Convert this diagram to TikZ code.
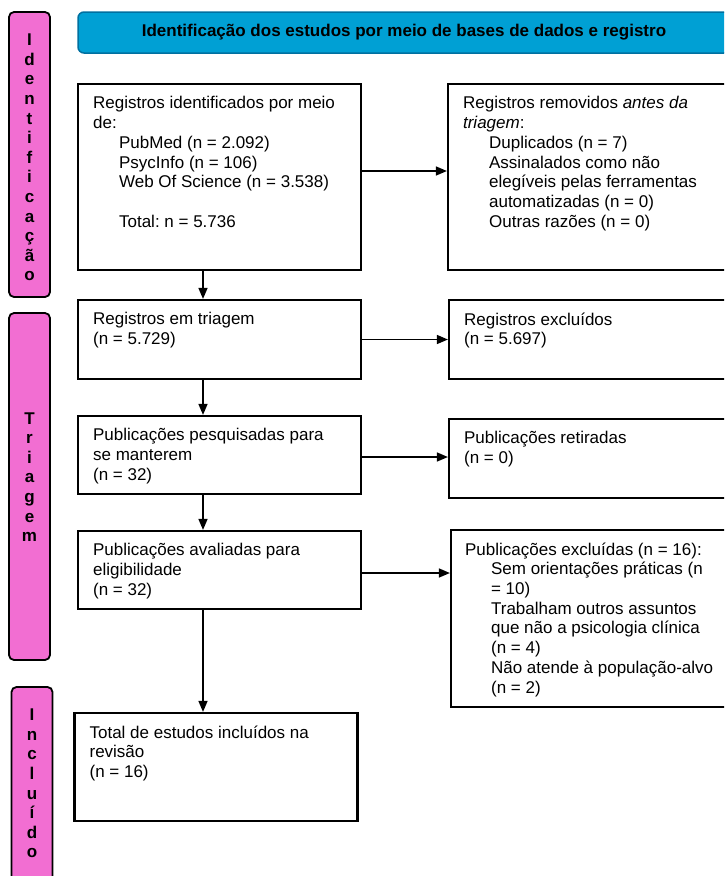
\documentclass[tikz,border=0pt]{standalone}
\usepackage{fontspec}
\setmainfont{Liberation Sans}
\usepackage{tikz}
\usetikzlibrary{arrows.meta,positioning}
\definecolor{barpink}{RGB}{242,110,210}
\definecolor{titleblue}{RGB}{0,160,212}
\definecolor{titleedge}{RGB}{0,112,160}
\newcommand{\ind}{\hspace*{26pt}}
\frenchspacing

\begin{document}
\begin{tikzpicture}[
    x=1pt, y=-1pt,
    box/.style={rectangle, draw, line width=2.2pt, minimum width=283pt, inner sep=0pt},
    txt/.style={inner sep=0pt, align=left, font=\fontsize{17}{19.7}\selectfont, execute at begin node=\strut},
    phase/.style={rectangle, rounded corners=5pt, draw, line width=1.8pt, fill=barpink, minimum width=41pt, inner sep=0pt},
    letters/.style={inner sep=0pt, align=center, font=\fontsize{17}{19.6}\selectfont\bfseries},
    arrow/.style={-{Triangle[length=11pt,width=9pt]}, line width=1.5pt}
]
    \useasboundingbox (0,0) rectangle (724,876);
    \clip (0,0) rectangle (724,876);

    % Titre
    \node[rectangle, rounded corners=6pt, draw=titleedge, line width=1.5pt, fill=titleblue,
        minimum width=652pt, minimum height=41pt, font=\fontsize{17}{19.7}\selectfont\bfseries]
        (title) at (404, 32.5) {Identificação dos estudos por meio de bases de dados e registro};

    % Phases
    \node[phase, minimum height=285pt] (phid) at (29.5, 154.5) {};
    \node[letters] (phidtxt) at (29.5, 157.5) {I\\d\\e\\n\\t\\i\\f\\i\\c\\a\\ç\\ã\\o};
    \node[phase, minimum height=347pt] (phtri) at (29.5, 486.5) {};
    \node[letters] (phtritxt) at (29.5, 477) {T\\r\\i\\a\\g\\e\\m};
    \node[phase, minimum height=213pt] (phinc) at (32, 793.5) {};
    \node[letters] (phinctxt) at (32, 783.5) {I\\n\\c\\l\\u\\í\\d\\o};

    % Colonne gauche
    \node[box, minimum height=186pt] (ident) at (219.5, 177) {};
    \node[box, minimum height=79pt] (triag) at (219.5, 339.5) {};
    \node[box, minimum height=78pt] (pesq) at (219.5, 455) {};
    \node[box, minimum height=78pt] (aval) at (219.5, 570) {};
    \node[box, minimum height=108pt] (incl) at (216, 767) {};

    % Colonne droite
    \node[box, minimum height=186pt] (remov) at (589.5, 177) {};
    \node[box, minimum height=79pt] (excl) at (590.5, 339.5) {};
    \node[box, minimum height=79pt] (retir) at (590.5, 458.5) {};
    \node[box, minimum height=177pt] (pexcl) at (592.5, 618.5) {};

    % Textes
    \node[txt, below right=13.5pt and 16pt of ident.north west] (identtxt)
        {Registros identificados por meio\\de:\\\ind PubMed (n = 2.092)\\\ind PsycInfo (n = 106)\\\ind Web Of Science (n = 3.538)\\[19.7pt]\ind Total: n = 5.736};
    \node[txt, below right=13.5pt and 16pt of triag.north west] (triagtxt)
        {Registros em triagem\\(n = 5.729)};
    \node[txt, below right=13.5pt and 16pt of pesq.north west] (pesqtxt)
        {Publicações pesquisadas para\\se manterem\\(n = 32)};
    \node[txt, below right=13.5pt and 16pt of aval.north west] (avaltxt)
        {Publicações avaliadas para\\eligibilidade\\(n = 32)};
    \node[txt, below right=13.5pt and 16pt of incl.north west] (incltxt)
        {Total de estudos incluídos na\\revisão\\(n = 16)};
    \node[txt, below right=13.5pt and 16pt of remov.north west] (removtxt)
        {Registros removidos \textit{antes da}\\\textit{triagem}:\\\ind Duplicados (n = 7)\\\ind Assinalados como não\\\ind elegíveis pelas ferramentas\\\ind automatizadas (n = 0)\\\ind Outras razões (n = 0)};
    \node[txt, below right=13.5pt and 16pt of excl.north west] (excltxt)
        {Registros excluídos\\(n = 5.697)};
    \node[txt, below right=13.5pt and 16pt of retir.north west] (retirtxt)
        {Publicações retiradas\\(n = 0)};
    \node[txt, below right=13.5pt and 15pt of pexcl.north west] (pexcltxt)
        {Publicações excluídas (n = 16):\\\ind Sem orientações práticas (n\\\ind = 10)\\\ind Trabalham outros assuntos\\\ind que não a psicologia clínica\\\ind (n = 4)\\\ind Não atende à população-alvo\\\ind (n = 2)};

    % Flèches verticales
    \coordinate (ax) at (203, 0);
    \draw[arrow] (ident.south -| ax) -- (triag.north -| ax);
    \draw[arrow] (triag.south -| ax) -- (pesq.north -| ax);
    \draw[arrow] (pesq.south -| ax) -- (aval.north -| ax);
    \draw[arrow] (aval.south -| ax) -- (incl.north -| ax);

    % Flèches horizontales
    \draw[arrow] ([yshift=6pt]ident.east) -- ([yshift=6pt]ident.east -| remov.west);
    \draw[arrow] (triag.east) -- (triag.east -| excl.west);
    \draw[arrow] ([yshift=-2pt]pesq.east) -- ([yshift=-2pt]pesq.east -| retir.west);
    \draw[arrow] ([yshift=-3pt]aval.east) -- ([yshift=-3pt]aval.east -| pexcl.west);
\end{tikzpicture}
\end{document}
